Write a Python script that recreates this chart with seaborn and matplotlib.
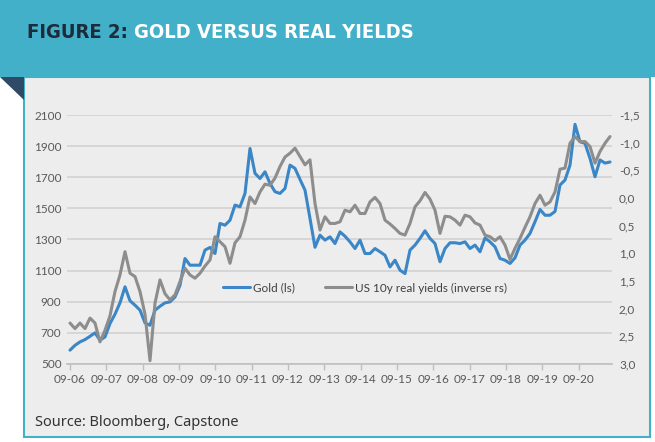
import matplotlib
matplotlib.use("Agg")
import matplotlib.pyplot as plt
from matplotlib.patches import Rectangle, Polygon
import numpy as np
import pandas as pd
import seaborn as sns


YEAR_LABELS = ["09-06", "09-07", "09-08", "09-09", "09-10", "09-11", "09-12", "09-13",
               "09-14", "09-15", "09-16", "09-17", "09-18", "09-19", "09-20"]

# gold price (USD/oz) at even steps
gold = [589, 620, 642, 657, 678, 700, 653, 674, 760, 820,
        893, 996, 906, 878, 846, 764, 749, 846, 871, 893,
        899, 931, 1006, 1178, 1135, 1135, 1135, 1232, 1249, 1210,
        1403, 1392, 1424, 1521, 1510, 1596, 1885, 1725, 1692, 1735,
        1660, 1607, 1596, 1628, 1778, 1757, 1686, 1617, 1435, 1250,
        1328, 1296, 1317, 1274, 1349, 1321, 1285, 1242, 1296, 1210,
        1210, 1242, 1221, 1199, 1124, 1167, 1103, 1081, 1232, 1264,
        1307, 1356, 1307, 1274, 1157, 1242, 1279, 1279, 1274, 1285,
        1242, 1264, 1221, 1310, 1285, 1253, 1178, 1167, 1146, 1182,
        1264, 1296, 1339, 1414, 1493, 1456, 1456, 1480, 1650, 1682,
        1778, 2040, 1928, 1918, 1821, 1703, 1811, 1791, 1798]

# US 10y real yield (%), same dates
real_yield = [2.26, 2.36, 2.26, 2.36, 2.17, 2.26, 2.60, 2.39, 2.13, 1.69,
              1.39, 0.97, 1.36, 1.42, 1.69, 2.10, 2.94, 1.90, 1.48, 1.73,
              1.84, 1.75, 1.51, 1.27, 1.39, 1.45, 1.36, 1.23, 1.12, 0.70,
              0.79, 0.88, 1.18, 0.81, 0.70, 0.40, -0.02, 0.10, -0.11, -0.25,
              -0.23, -0.36, -0.57, -0.74, -0.81, -0.90, -0.75, -0.60, -0.69, 0.10,
              0.58, 0.34, 0.46, 0.46, 0.43, 0.22, 0.25, 0.13, 0.28, 0.28,
              0.07, -0.01, 0.10, 0.40, 0.47, 0.55, 0.64, 0.67, 0.46, 0.16,
              0.05, -0.10, 0.02, 0.22, 0.64, 0.33, 0.34, 0.40, 0.49, 0.31,
              0.34, 0.45, 0.49, 0.67, 0.70, 0.77, 0.70, 0.85, 1.11, 0.91,
              0.73, 0.53, 0.34, 0.10, -0.05, 0.13, 0.07, -0.11, -0.52, -0.54,
              -0.99, -1.11, -1.02, -1.02, -0.93, -0.63, -0.84, -0.99, -1.11]

gold_ticks = list(range(500, 2101, 200))
yield_ticks = [-1.5, -1.0, -0.5, 0.0, 0.5, 1.0, 1.5, 2.0, 2.5, 3.0]

TEAL = "#41b0c8"
PANEL = "#ededed"
NAVY = "#2f4a66"
BLUE = "#3a86c6"
GREY = "#8d8d8d"
TXT = "#595959"

W, H = 655, 442

sns.set_theme(style="white")
plt.rcParams["font.family"] = ["Lato", "DejaVu Sans"]

df = pd.DataFrame({"t": np.arange(len(gold)), "gold": gold, "ry": real_yield})

fig = plt.figure(figsize=(W / 100, H / 100), dpi=100)
fig.patch.set_facecolor("white")

# header band, grey panel and the little folded corner
fig.patches.append(Rectangle((0, 1 - 77 / H), 1, 77 / H, transform=fig.transFigure,
                             facecolor=TEAL, edgecolor="none", zorder=-3))
fig.patches.append(Rectangle((24 / W, 1 - 437 / H), 626 / W, 360 / H, transform=fig.transFigure,
                             facecolor=PANEL, edgecolor=TEAL, linewidth=1.5, zorder=-3))
fig.patches.append(Polygon([(0, 1 - 77 / H), (24 / W, 1 - 77 / H), (24 / W, 1 - 100 / H)],
                           closed=True, transform=fig.transFigure,
                           facecolor=NAVY, edgecolor="none", zorder=-2))

ax = fig.add_axes([67 / W, 1 - 364 / H, (612 - 67) / W, (364 - 115) / H])
ax.patch.set_alpha(0)
sns.lineplot(data=df, x="t", y="gold", ax=ax, color=BLUE, linewidth=2.2, label="Gold (ls)")

ax2 = ax.twinx()
sns.lineplot(data=df, x="t", y="ry", ax=ax2, color=GREY, linewidth=2.2,
             label="US 10y real yields (inverse rs)")
ax2.patch.set_alpha(0)

for a in (ax, ax2):
    if a.get_legend():
        a.get_legend().remove()
    a.set_xlabel("")
    a.set_ylabel("")
    for s in a.spines.values():
        s.set_visible(False)

ax.spines["bottom"].set_visible(True)
ax.spines["bottom"].set_color("#bfbfbf")
ax.spines["bottom"].set_linewidth(1.2)

ax.set_ylim(500, 2100)
ax.set_yticks(gold_ticks)
ax.yaxis.grid(True, color="#d2d2d2", linewidth=1.2)
ax.xaxis.grid(False)
ax.set_axisbelow(True)

per_year = len(gold) / len(YEAR_LABELS)
ax.set_xlim(-0.6, len(gold) - 0.6)
ax.set_xticks(np.arange(len(YEAR_LABELS)) * per_year)
ax.set_xticklabels(YEAR_LABELS)
ax.tick_params(axis="x", bottom=True, length=4, width=1, color="#bfbfbf",
               labelsize=8.5, labelcolor=TXT, pad=3)
ax.tick_params(axis="y", left=False, length=0, labelsize=8.5, labelcolor=TXT, pad=4)

ax2.set_ylim(3.0, -1.5)
ax2.set_yticks(yield_ticks)
ax2.set_yticklabels([f"{v:.1f}".replace(".", ",") for v in yield_ticks])
ax2.tick_params(axis="y", right=False, length=0, labelsize=8.5, labelcolor=TXT, pad=5)
ax2.grid(False)

h1, l1 = ax.get_legend_handles_labels()
h2, l2 = ax2.get_legend_handles_labels()
fig.legend(h1 + h2, l1 + l2, loc="center", bbox_to_anchor=(365 / W, 1 - 288 / H),
           ncol=2, frameon=False, fontsize=8.5, handlelength=2.3, handletextpad=0.2,
           columnspacing=2.6, labelcolor="#404040")

# title in two colours
title_font = dict(family=["DejaVu Sans"], weight="bold", stretch="condensed", size=14.5)
t1 = fig.text(27 / W, 1 - 33 / H, "FIGURE 2:", color="#1d2b3a", va="center", **title_font)
fig.canvas.draw()
bb = t1.get_window_extent()
x2 = fig.transFigure.inverted().transform((bb.x1 + 6, 0))[0]
fig.text(x2, 1 - 33 / H, "GOLD VERSUS REAL YIELDS", color="white", va="center", **title_font)

fig.text(35 / W, 1 - 423 / H, "Source: Bloomberg, Capstone", color="#333333",
         va="center", fontsize=10.5, family=["Noto Sans", "DejaVu Sans"])

fig.savefig("out.png", dpi=100)
